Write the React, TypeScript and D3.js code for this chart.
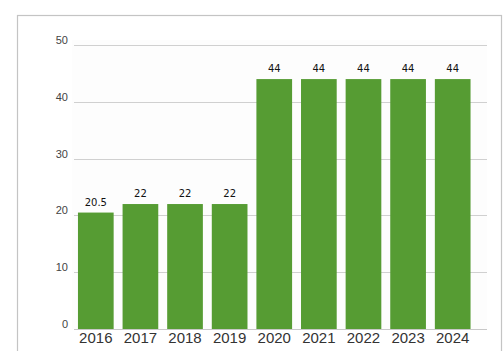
import React from "react";
import * as d3 from "d3";

const categories = ["2016", "2017", "2018", "2019", "2020", "2021", "2022", "2023", "2024"];
const values = [20.5, 22, 22, 22, 44, 44, 44, 44, 44];
const yTicks = [0, 10, 20, 30, 40, 50];

export default function App() {
  const W = 504, H = 351;
  const y = d3.scaleLinear().domain([0, 50]).range([329, 45]);
  const x = d3.scaleBand<string>().domain(categories).range([73.5, 475]).paddingInner(0.2).paddingOuter(0.1);
  const gridX0 = 74, gridX1 = 487;
  return (
    <svg width={W} height={H} style={{ position: "absolute", left: 0, top: 0 }}>
      <rect x={0} y={0} width={W} height={H} fill="#ffffff" />
      <rect x={17.5} y={15.5} width={484} height={400} fill="#ffffff" stroke="#c4c4c4" strokeWidth={1.2} />
      <rect x={72} y={40} width={gridX1 - 72} height={289} fill="#fdfdfd" />
      {yTicks.map((t) => (
        <g key={t}>
          {t > 0 && (
            <line x1={gridX0} x2={gridX1} y1={Math.round(y(t)) + 0.5} y2={Math.round(y(t)) + 0.5} stroke="#d0d0d0" strokeWidth={1} />
          )}
          <text x={68} y={y(t) - 1} textAnchor="end" fontFamily="'Liberation Sans', Arial, sans-serif" fontSize={11} fill="#444">
            {t}
          </text>
        </g>
      ))}
      {categories.map((c, i) => (
        <g key={c}>
          <rect x={x(c)!} y={y(values[i])} width={x.bandwidth()} height={y(0) - y(values[i])} fill="#569c33" />
          <text x={x(c)! + x.bandwidth() / 2} y={y(values[i]) - 7} textAnchor="middle" fontFamily="'DejaVu Sans', Verdana, sans-serif" fontSize={10} fill="#111">
            {values[i]}
          </text>
          <text x={x(c)! + x.bandwidth() / 2} y={343} textAnchor="middle" fontFamily="'Liberation Sans', Arial, sans-serif" fontSize={15} fill="#333">
            {c}
          </text>
        </g>
      ))}
      <line x1={gridX0} x2={gridX1} y1={329.5} y2={329.5} stroke="#c8c8c8" strokeWidth={1} />
    </svg>
  );
}
